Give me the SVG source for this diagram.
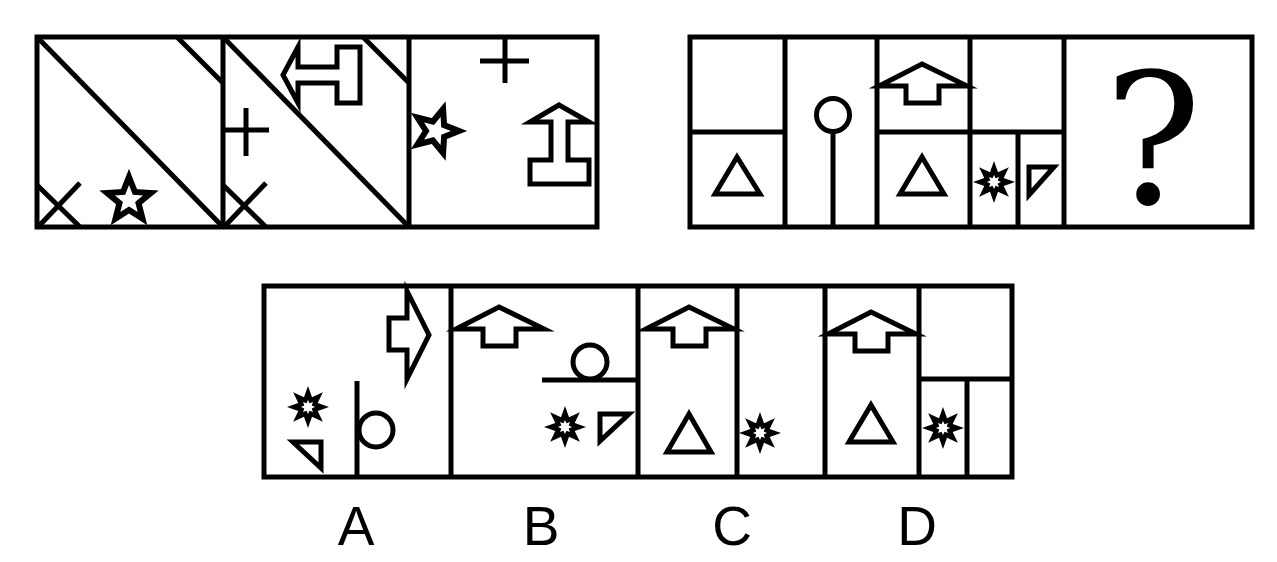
<svg xmlns="http://www.w3.org/2000/svg" width="1277" height="562" viewBox="0 0 1277 562">
<style>
.s{fill:none;stroke:#000;stroke-width:5;stroke-linejoin:miter;stroke-miterlimit:10}
.f{fill:#fff;stroke:#000;stroke-width:5;stroke-miterlimit:10}
.st{fill:#fff;stroke:#000;stroke-width:6;stroke-miterlimit:10}
.lbl{font-family:"Liberation Sans",Arial,sans-serif;font-size:55px;fill:#000;text-anchor:middle}
</style>
<defs>
<path id="burst" fill-rule="evenodd" fill="#000" d="M0,-21 L4.02,-9.70 L14.85,-14.85 L9.70,-4.02 L21,0 L9.70,4.02 L14.85,14.85 L4.02,9.70 L0,21 L-4.02,9.70 L-14.85,14.85 L-9.70,4.02 L-21,0 L-9.70,-4.02 L-14.85,-14.85 L-4.02,-9.70 Z M0,-7 L1.53,-3.70 L4.95,-4.95 L3.70,-1.53 L7,0 L3.70,1.53 L4.95,4.95 L1.53,3.70 L0,7 L-1.53,3.70 L-4.95,4.95 L-3.70,1.53 L-7,0 L-3.70,-1.53 L-4.95,-4.95 L-1.53,-3.70 Z"/>
<path id="uparrow" class="f" d="M0,0 L45,22 L17,22 L17,39 L-16,39 L-16,22 L-43,22 Z"/>
</defs>
<rect width="1277" height="562" fill="#fff"/>

<!-- Top-left sequence -->
<g id="seq1">
<rect class="s" x="37" y="37" width="560" height="190"/>
<line class="s" x1="223" y1="37" x2="223" y2="227"/>
<line class="s" x1="409" y1="37" x2="409" y2="227"/>
</g>
<g id="seq1-p1">
<line class="s" x1="37" y1="37" x2="223" y2="227"/>
<line class="s" x1="177" y1="37" x2="223" y2="83"/>
<line class="s" x1="37" y1="185" x2="80" y2="227"/>
<line class="s" x1="80" y1="183" x2="38" y2="227"/>
<path class="st" d="M129,177 L134.9,191.9 L150.9,192.9 L138.5,203.1 L142.5,218.6 L129,210 L115.5,218.6 L119.5,203.1 L107.1,192.9 L123.1,191.9 Z"/>
</g>
<g id="seq1-p2">
<line class="s" x1="223" y1="37" x2="409" y2="227"/>
<line class="s" x1="363" y1="37" x2="409" y2="83"/>
<line class="s" x1="223" y1="185" x2="266" y2="227"/>
<line class="s" x1="266" y1="183" x2="224" y2="227"/>
<line class="s" x1="223" y1="130" x2="269" y2="130"/>
<line class="s" x1="246" y1="108" x2="246" y2="156"/>
<path class="f" d="M283,75 L298,47 L298,67 L337,67 L337,47 L360,47 L360,103 L337,103 L337,83 L298,83 L298,103 Z"/>
</g>
<g id="seq1-p3">
<line class="s" x1="480" y1="61" x2="529" y2="61"/>
<line class="s" x1="505" y1="37" x2="505" y2="83"/>
<path class="st" d="M459,131 L444.1,136.9 L443.1,152.9 L432.9,140.5 L417.4,144.5 L426,131 L417.4,117.5 L432.9,121.5 L443.1,109.1 L444.1,125.1 Z"/>
<path class="f" d="M559,105 L589,122 L568,122 L568,160 L589,160 L589,184 L530,184 L530,160 L551,160 L551,122 L530,122 Z"/>
</g>

<!-- Top-right sequence -->
<g id="seq2">
<rect class="s" x="690" y="37" width="562" height="190"/>
<line class="s" x1="785" y1="37" x2="785" y2="227"/>
<line class="s" x1="877" y1="37" x2="877" y2="227"/>
<line class="s" x1="970" y1="37" x2="970" y2="227"/>
<line class="s" x1="1064" y1="37" x2="1064" y2="227"/>
</g>
<g id="seq2-p1">
<line class="s" x1="690" y1="132" x2="785" y2="132"/>
<path class="s" d="M737,157 L760,194 L715,194 Z"/>
</g>
<g id="seq2-p2">
<circle class="s" cx="833" cy="115" r="16.5"/>
<line class="s" x1="833" y1="131.5" x2="833" y2="227"/>
</g>
<g id="seq2-p3">
<line class="s" x1="877" y1="132" x2="970" y2="132"/>
<use href="#uparrow" transform="translate(922,64)"/>
<path class="s" d="M922,157 L944,194 L900,194 Z"/>
</g>
<g id="seq2-p4">
<line class="s" x1="970" y1="132" x2="1064" y2="132"/>
<line class="s" x1="1018" y1="132" x2="1018" y2="227"/>
<use href="#burst" transform="translate(994,182)"/>
<path class="s" d="M1029,167 L1054,167 L1029,195 Z"/>
</g>
<g id="seq2-q">
<text x="1153" y="203" font-family="'DejaVu Serif',serif" font-size="182" text-anchor="middle" fill="#000">?</text>
</g>

<!-- Options -->
<g id="options">
<rect class="s" x="264" y="286" width="748" height="191"/>
<line class="s" x1="451" y1="286" x2="451" y2="477"/>
<line class="s" x1="638" y1="286" x2="638" y2="477"/>
<line class="s" x1="825" y1="286" x2="825" y2="477"/>
</g>
<g id="optA">
<path class="f" d="M407,291 L429,335 L407,379 L407,350 L389,350 L389,318 L407,318 Z"/>
<line class="s" x1="357" y1="381" x2="357" y2="477"/>
<circle class="s" cx="376" cy="430" r="17"/>
<use href="#burst" transform="translate(308,407)"/>
<path class="s" d="M293,442 L321,442 L321,468 Z"/>
</g>
<g id="optB">
<use href="#uparrow" transform="translate(499,307)"/>
<line class="s" x1="542" y1="380" x2="638" y2="380"/>
<circle class="s" cx="590" cy="362" r="17"/>
<use href="#burst" transform="translate(565,427)"/>
<path class="s" d="M600,414 L629,414 L600,441 Z"/>
</g>
<g id="optC">
<line class="s" x1="737" y1="286" x2="737" y2="477"/>
<use href="#uparrow" transform="translate(689,307)"/>
<path class="s" d="M689,414 L711,452 L667,452 Z"/>
<use href="#burst" transform="translate(760,433)"/>
</g>
<g id="optD">
<line class="s" x1="919" y1="286" x2="919" y2="477"/>
<line class="s" x1="919" y1="379" x2="1012" y2="379"/>
<line class="s" x1="967" y1="379" x2="967" y2="477"/>
<use href="#uparrow" transform="translate(871,312)"/>
<path class="s" d="M871,405 L893,442 L849,442 Z"/>
<use href="#burst" transform="translate(943,428)"/>
</g>

<g id="labels">
<text class="lbl" x="356" y="545">A</text>
<text class="lbl" x="541" y="545">B</text>
<text class="lbl" x="732" y="545">C</text>
<text class="lbl" x="917" y="545">D</text>
</g>
</svg>
